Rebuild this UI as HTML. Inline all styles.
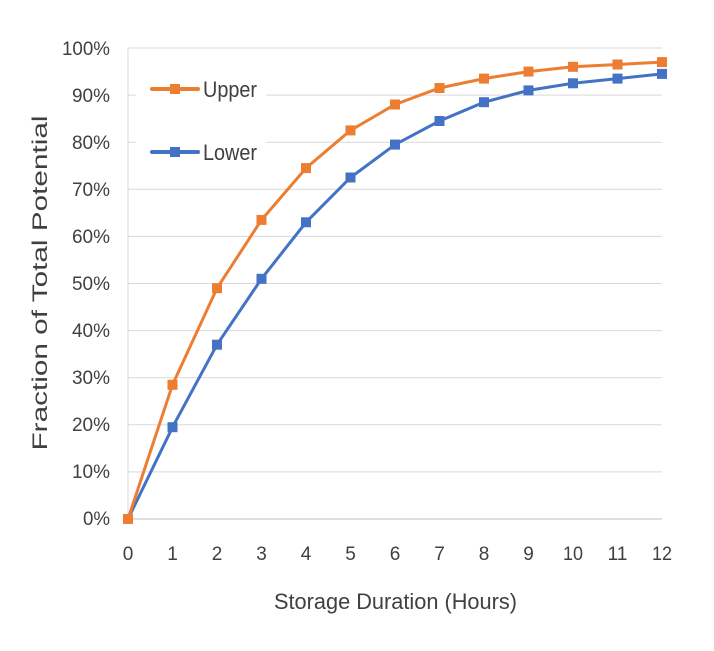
<!DOCTYPE html>
<html><head><meta charset="utf-8"><style>
body{margin:0;background:#fff}
svg text{font-family:"Liberation Sans",sans-serif;fill:#404040}
</style></head><body>
<svg width="714" height="646" viewBox="0 0 714 646" xmlns="http://www.w3.org/2000/svg">
<g stroke="#d9d9d9" stroke-width="1">
<line x1="128" y1="48" x2="662" y2="48"/>
<line x1="128" y1="95.1" x2="662" y2="95.1"/>
<line x1="128" y1="142.2" x2="662" y2="142.2"/>
<line x1="128" y1="189.3" x2="662" y2="189.3"/>
<line x1="128" y1="236.4" x2="662" y2="236.4"/>
<line x1="128" y1="283.5" x2="662" y2="283.5"/>
<line x1="128" y1="330.6" x2="662" y2="330.6"/>
<line x1="128" y1="377.7" x2="662" y2="377.7"/>
<line x1="128" y1="424.8" x2="662" y2="424.8"/>
<line x1="128" y1="471.9" x2="662" y2="471.9"/>
<line x1="128" y1="48" x2="128" y2="519"/>
</g>
<line x1="128" y1="519" x2="662" y2="519" stroke="#bfbfbf" stroke-width="1"/>
<g font-size="19" text-anchor="end" lengthAdjust="spacingAndGlyphs">
<text x="110" y="55" textLength="48" lengthAdjust="spacingAndGlyphs">100%</text>
<text x="110" y="102" textLength="38" lengthAdjust="spacingAndGlyphs">90%</text>
<text x="110" y="149" textLength="38" lengthAdjust="spacingAndGlyphs">80%</text>
<text x="110" y="196" textLength="38" lengthAdjust="spacingAndGlyphs">70%</text>
<text x="110" y="243" textLength="38" lengthAdjust="spacingAndGlyphs">60%</text>
<text x="110" y="290" textLength="38" lengthAdjust="spacingAndGlyphs">50%</text>
<text x="110" y="337" textLength="38" lengthAdjust="spacingAndGlyphs">40%</text>
<text x="110" y="384" textLength="38" lengthAdjust="spacingAndGlyphs">30%</text>
<text x="110" y="431" textLength="38" lengthAdjust="spacingAndGlyphs">20%</text>
<text x="110" y="478" textLength="38" lengthAdjust="spacingAndGlyphs">10%</text>
<text x="110" y="525" textLength="27" lengthAdjust="spacingAndGlyphs">0%</text>
</g>
<g font-size="19" text-anchor="middle">
<text x="128" y="560">0</text><text x="172.5" y="560">1</text><text x="217" y="560">2</text>
<text x="261.5" y="560">3</text><text x="306" y="560">4</text><text x="350.5" y="560">5</text>
<text x="395" y="560">6</text><text x="439.5" y="560">7</text><text x="484" y="560">8</text>
<text x="528.5" y="560">9</text><text x="573" y="560" textLength="20" lengthAdjust="spacingAndGlyphs">10</text><text x="617.5" y="560" textLength="20" lengthAdjust="spacingAndGlyphs">11</text>
<text x="662" y="560" textLength="20" lengthAdjust="spacingAndGlyphs">12</text>
</g>
<text x="274" y="609" font-size="22" textLength="243" lengthAdjust="spacingAndGlyphs">Storage Duration (Hours)</text>
<text transform="translate(47,283) rotate(-90)" text-anchor="middle" font-size="21" textLength="335" lengthAdjust="spacingAndGlyphs">Fraction of Total Potential</text>
<rect x="136" y="70" width="130" height="100" fill="#fff"/>
<polyline fill="none" stroke="#4472c4" stroke-width="3" points="128,519 172.5,427.2 217,344.7 261.5,278.8 306,222.3 350.5,177.5 395,144.6 439.5,121 484,102.2 528.5,90.4 573,83.3 617.5,78.6 662,73.9"/>
<polyline fill="none" stroke="#ed7d31" stroke-width="3" points="128,519 172.5,384.8 217,288.2 261.5,219.9 306,168.1 350.5,130.4 395,104.5 439.5,88 484,78.6 528.5,71.6 573,66.8 617.5,64.5 662,62.1"/>
<g fill="#4472c4">
<rect x="123" y="514" width="10" height="10"/><rect x="167.5" y="422.2" width="10" height="10"/><rect x="212" y="339.7" width="10" height="10"/><rect x="256.5" y="273.8" width="10" height="10"/><rect x="301" y="217.3" width="10" height="10"/><rect x="345.5" y="172.5" width="10" height="10"/><rect x="390" y="139.6" width="10" height="10"/><rect x="434.5" y="116" width="10" height="10"/><rect x="479" y="97.2" width="10" height="10"/><rect x="523.5" y="85.4" width="10" height="10"/><rect x="568" y="78.3" width="10" height="10"/><rect x="612.5" y="73.6" width="10" height="10"/><rect x="657" y="68.9" width="10" height="10"/>
</g>
<g fill="#ed7d31">
<rect x="123" y="514" width="10" height="10"/><rect x="167.5" y="379.8" width="10" height="10"/><rect x="212" y="283.2" width="10" height="10"/><rect x="256.5" y="214.9" width="10" height="10"/><rect x="301" y="163.1" width="10" height="10"/><rect x="345.5" y="125.4" width="10" height="10"/><rect x="390" y="99.5" width="10" height="10"/><rect x="434.5" y="83" width="10" height="10"/><rect x="479" y="73.6" width="10" height="10"/><rect x="523.5" y="66.6" width="10" height="10"/><rect x="568" y="61.8" width="10" height="10"/><rect x="612.5" y="59.5" width="10" height="10"/><rect x="657" y="57.1" width="10" height="10"/>
</g>
<line x1="152" y1="89" x2="198" y2="89" stroke="#ed7d31" stroke-width="4" stroke-linecap="round"/>
<rect x="170" y="84" width="10" height="10" fill="#ed7d31"/>
<line x1="152" y1="152" x2="198" y2="152" stroke="#4472c4" stroke-width="4" stroke-linecap="round"/>
<rect x="170" y="147" width="10" height="10" fill="#4472c4"/>
<text x="203" y="97" font-size="22" textLength="54" lengthAdjust="spacingAndGlyphs">Upper</text>
<text x="203" y="160" font-size="22" textLength="54" lengthAdjust="spacingAndGlyphs">Lower</text>
</svg>
</body></html>
